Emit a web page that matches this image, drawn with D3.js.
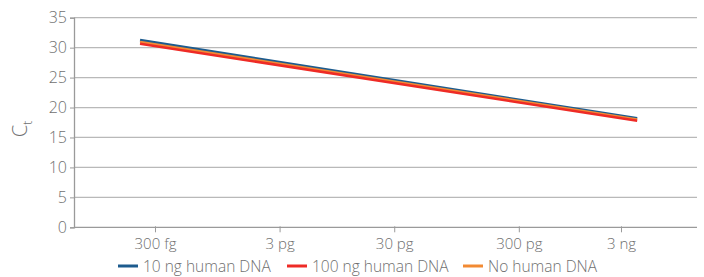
<!DOCTYPE html>
<html>
<head>
<meta charset="utf-8">
<script src="https://cdn.jsdelivr.net/npm/d3@7"></script>
<style>
  body { margin: 0; background: #fff; }
  svg text { font-family: "Open Sans", "Liberation Sans", sans-serif; font-weight: 300; fill: #6f6f6f; }
</style>
</head>
<body>
<div id="chart"></div>
<script>
// x axis labels and where they sit on the (uneven) category axis
var xTickLabels = ["300 fg", "3 pg", "30 pg", "300 pg", "3 ng"]
var xTickPos = [0.65, 1.65, 2.57, 3.57, 4.39]
var yTicks = [0, 5, 10, 15, 20, 25, 30, 35]

// trend line endpoints per series
var xPoints = [0.53, 4.52]
var seriesNames = ["10 ng human DNA", "100 ng human DNA", "No human DNA"]
var seriesColors = ["#1c5b8e", "#ee2b26", "#f28a33"]
var blueVals = [31.25, 18.2]
var redVals = [30.65, 17.8]
var orangeVals = [30.95, 18.0]

var width = 704, height = 277
var margin = {top: 17.7, right: 7, bottom: 49.7, left: 74}

var svg = d3.select("#chart").append("svg")
    .attr("width", width)
    .attr("height", height)

var x = d3.scaleLinear().domain([0, 5]).range([margin.left, width - margin.right])
var y = d3.scaleLinear().domain([0, 35]).range([height - margin.bottom, margin.top])

// gridlines
svg.append("g")
  .selectAll("line")
    .data(yTicks.filter(function(d) { return d > 0 }))
  .enter().append("line")
    .attr("x1", x(0)).attr("x2", x(5))
    .attr("y1", function(d) { return y(d) }).attr("y2", function(d) { return y(d) })
    .attr("stroke", "#b9b9b9").attr("stroke-width", 1.3)

// y axis
var yAxis = svg.append("g")
    .attr("transform", "translate(" + x(0) + ",0)")
    .call(d3.axisLeft(y).tickValues(yTicks).tickSize(4).tickPadding(3))
yAxis.select(".domain").attr("stroke", "#9a9a9a").attr("stroke-width", 1.3)
yAxis.selectAll(".tick line").attr("stroke", "#9a9a9a")
yAxis.selectAll("text").style("font-size", "16px").attr("fill", "#6f6f6f")

// x axis
var xAxis = svg.append("g")
    .attr("transform", "translate(0," + y(0) + ")")
    .call(d3.axisBottom(x).tickValues(xTickPos).tickSize(5).tickPadding(6)
        .tickFormat(function(d, i) { return xTickLabels[i] }))
xAxis.select(".domain").attr("stroke", "#9a9a9a").attr("stroke-width", 1.3)
    .attr("d", "M" + x(0) + ",0H" + x(5))
xAxis.selectAll(".tick line").attr("stroke", "#9a9a9a").attr("y1", -1)
xAxis.selectAll("text").style("font-size", "15px").attr("fill", "#6f6f6f")

// y title with subscript
var yt = svg.append("text")
    .attr("transform", "translate(27,129) rotate(-90)")
    .attr("text-anchor", "middle")
    .style("font-size", "20px")
yt.append("tspan").text("C")
yt.append("tspan").attr("dy", 5).style("font-size", "12px").text("t")

// series lines
var series = [blueVals, orangeVals, redVals]
var colorOrder = [seriesColors[0], seriesColors[2], seriesColors[1]]
var line = d3.line()
    .x(function(d, i) { return x(xPoints[i]) })
    .y(function(d) { return y(d) })
svg.append("g")
  .selectAll("path")
    .data(series)
  .enter().append("path")
    .attr("d", line)
    .attr("fill", "none")
    .attr("stroke", function(d, i) { return colorOrder[i] })
    .attr("stroke-width", 2.6)

// legend
var legendX = [118, 287, 463]
var lg = svg.append("g").attr("transform", "translate(0,266)")
    .selectAll("g")
    .data(seriesNames)
  .enter().append("g")
    .attr("transform", function(d, i) { return "translate(" + legendX[i] + ",0)" })
lg.append("line")
    .attr("x1", 0).attr("x2", 20)
    .attr("stroke", function(d, i) { return seriesColors[i] })
    .attr("stroke-width", 3)
lg.append("text")
    .attr("x", 25).attr("y", 5.5)
    .style("font-size", "15.5px")
    .text(function(d) { return d })
</script>
</body>
</html>
